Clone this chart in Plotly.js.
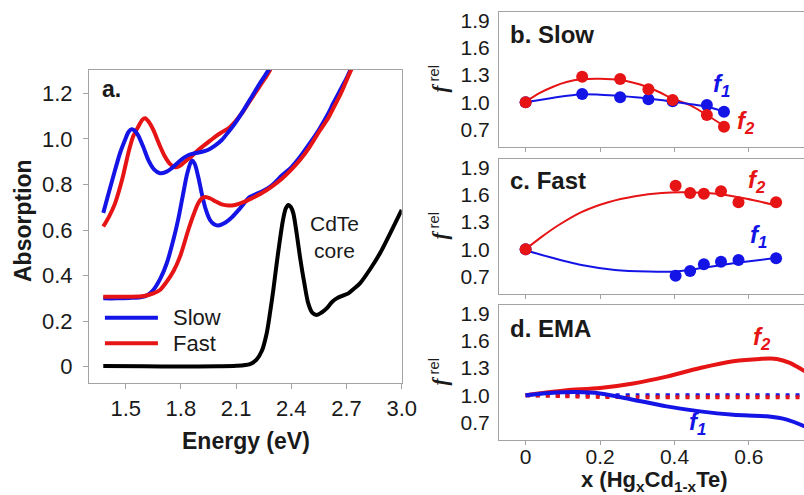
<!DOCTYPE html>
<html>
<head>
<meta charset="utf-8">
<script src="https://cdn.plot.ly/plotly-3.0.1.min.js"></script>
<style>
  html, body { margin: 0; padding: 0; background: #fff; }
  #chart { width: 804px; height: 495px; }
</style>
</head>
<body>
<div id="chart"></div>
<script>
// ---------- Panel a: absorption spectra ----------
const slowUpperE = [1.378,1.41,1.442,1.47,1.496,1.515,1.532,1.55,1.568,1.595,1.623,1.655,1.686,1.72,1.75,1.78,1.813,1.845,1.876,1.91,1.949,1.985,2.022,2.058,2.094,2.14,2.185,2.23,2.275,2.29];
const slowUpperA = [0.675,0.77,0.863,0.94,0.995,1.03,1.042,1.035,1.015,0.965,0.907,0.865,0.849,0.855,0.871,0.893,0.915,0.93,0.937,0.942,0.952,0.97,0.995,1.03,1.068,1.125,1.185,1.245,1.30,1.32];

const fastUpperE = [1.378,1.41,1.442,1.48,1.514,1.54,1.568,1.59,1.605,1.625,1.65,1.68,1.713,1.74,1.768,1.795,1.822,1.86,1.894,1.94,1.985,2.02,2.058,2.094,2.131,2.17,2.203,2.24,2.275,2.295];
const fastUpperA = [0.615,0.66,0.717,0.82,0.937,1.01,1.053,1.083,1.09,1.075,1.039,0.98,0.922,0.89,0.875,0.882,0.9,0.925,0.951,0.98,1.009,1.028,1.046,1.075,1.112,1.16,1.20,1.245,1.288,1.32];

const slowLowerE = [1.378,1.45,1.52,1.58,1.62,1.65,1.69,1.723,1.76,1.786,1.81,1.835,1.859,1.875,1.895,1.913,1.935,1.958,1.98,2.003,2.04,2.076,2.121,2.175,2.23,2.266,2.3,2.35,2.4,2.447,2.5,2.55,2.6,2.628,2.67,2.7,2.725];
const slowLowerA = [0.30,0.30,0.302,0.305,0.315,0.337,0.39,0.454,0.56,0.65,0.75,0.85,0.905,0.89,0.83,0.761,0.69,0.644,0.625,0.62,0.632,0.655,0.695,0.745,0.765,0.78,0.80,0.84,0.875,0.92,0.98,1.04,1.11,1.156,1.22,1.265,1.31];

const fastLowerE = [1.378,1.45,1.52,1.6,1.65,1.686,1.72,1.76,1.795,1.84,1.87,1.894,1.915,1.935,1.96,1.99,2.022,2.058,2.094,2.14,2.185,2.24,2.294,2.35,2.4,2.447,2.5,2.55,2.6,2.628,2.67,2.71,2.735];
const fastLowerA = [0.307,0.307,0.307,0.31,0.322,0.337,0.37,0.42,0.483,0.6,0.67,0.717,0.74,0.745,0.738,0.725,0.712,0.707,0.71,0.722,0.739,0.762,0.79,0.826,0.865,0.907,0.965,1.03,1.09,1.134,1.2,1.275,1.32];

const coreE = [1.378,1.6,1.8,2.0,2.1,2.175,2.21,2.24,2.266,2.285,2.302,2.32,2.338,2.355,2.37,2.384,2.398,2.411,2.43,2.447,2.47,2.492,2.515,2.538,2.565,2.592,2.62,2.647,2.68,2.71,2.74,2.773,2.83,2.882,2.94,3.0];
const coreA = [0.003,0.002,0.001,0.002,0.004,0.012,0.03,0.07,0.146,0.24,0.336,0.45,0.556,0.645,0.695,0.71,0.70,0.673,0.58,0.483,0.37,0.278,0.236,0.227,0.238,0.256,0.283,0.30,0.312,0.322,0.342,0.366,0.43,0.498,0.59,0.688];

const energyTicks = [1.5, 1.8, 2.1, 2.4, 2.7, 3.0];
const energyTickText = ['1.5', '1.8', '2.1', '2.4', '2.7', '3.0'];
const absTicks = [0, 0.2, 0.4, 0.6, 0.8, 1.0, 1.2];
const absTickText = ['0', '0.2', '0.4', '0.6', '0.8', '1.0', '1.2'];

// ---------- Panel b: slow growth ----------
const slowX = [0, 0.152, 0.254, 0.33, 0.395, 0.487, 0.533];
const slowF1 = [1.0, 1.09, 1.054, 1.032, 1.01, 0.969, 0.894];
const slowF2 = [1.0, 1.281, 1.256, 1.142, 1.024, 0.858, 0.729];
const slowFitF1X = [0, 0.075, 0.15, 0.2, 0.254, 0.325, 0.397, 0.44, 0.487, 0.536];
const slowFitF1Y = [1.0, 1.05, 1.088, 1.082, 1.068, 1.043, 1.005, 0.98, 0.95, 0.894];
const slowFitF2X = [0, 0.037, 0.074, 0.11, 0.15, 0.2, 0.254, 0.29, 0.325, 0.36, 0.392, 0.442, 0.487, 0.536];
const slowFitF2Y = [1.005, 1.1, 1.171, 1.222, 1.252, 1.258, 1.245, 1.215, 1.171, 1.11, 1.043, 0.968, 0.858, 0.729];

// ---------- Panel c: fast growth ----------
const fastX = [0, 0.403, 0.442, 0.479, 0.525, 0.572, 0.673];
const fastF1 = [1.0, 0.708, 0.762, 0.835, 0.864, 0.882, 0.90];
const fastF2 = [1.0, 1.70, 1.62, 1.61, 1.638, 1.518, 1.518];
const fastFitF1X = [0, 0.061, 0.15, 0.24, 0.33, 0.401, 0.469, 0.558, 0.666];
const fastFitF1Y = [0.99, 0.918, 0.827, 0.773, 0.755, 0.755, 0.79, 0.846, 0.90];
const fastFitF2X = [0, 0.043, 0.088, 0.15, 0.222, 0.294, 0.366, 0.428, 0.513, 0.594, 0.666];
const fastFitF2Y = [1.0, 1.136, 1.264, 1.409, 1.518, 1.584, 1.62, 1.627, 1.61, 1.555, 1.49];

// ---------- Panel d: effective medium approximation ----------
const emaF2X = [0, 0.055, 0.11, 0.2, 0.289, 0.379, 0.469, 0.558, 0.63, 0.675, 0.71, 0.76];
const emaF2Y = [1.0, 1.03, 1.055, 1.08, 1.13, 1.205, 1.30, 1.374, 1.40, 1.40, 1.356, 1.24];
const emaF1X = [0, 0.065, 0.137, 0.2, 0.289, 0.379, 0.469, 0.558, 0.648, 0.702, 0.76];
const emaF1Y = [1.0, 1.025, 1.035, 1.02, 0.951, 0.878, 0.823, 0.786, 0.768, 0.732, 0.64];
const emaF2DotX = [0, 0.1, 0.2, 0.3, 0.4, 0.5, 0.6, 0.7, 0.76];
const emaF2DotY = [1.0, 0.99, 0.982, 0.978, 0.977, 0.977, 0.977, 0.977, 0.977];
const emaF1DotX = [0, 0.1, 0.2, 0.3, 0.4, 0.5, 0.6, 0.7, 0.76];
const emaF1DotY = [1.0, 1.0, 1.0, 1.0, 1.0, 1.0, 1.0, 1.0, 1.0];

const compTicks = [0, 0.2, 0.4, 0.6];
const compTickText = ['0', '0.2', '0.4', '0.6'];
const fTicks = [0.7, 1.0, 1.3, 1.6, 1.9];
const fTickText = ['0.7', '1.0', '1.3', '1.6', '1.9'];

const BLUE = '#1414e6';
const RED = '#e61414';
const FRAME = '#a3a3a3';
const FONT = 'Liberation Sans, Arial, sans-serif';
const TXT = '#1a1a1a';

function line(x, y, color, width, xa, ya, dash) {
  return { x, y, xaxis: xa, yaxis: ya, type: 'scatter', mode: 'lines',
    line: { color, width, shape: 'spline', smoothing: 0.8, dash: dash || 'solid' },
    hoverinfo: 'skip', showlegend: false };
}
function dots(x, y, color, xa, ya) {
  return { x, y, xaxis: xa, yaxis: ya, type: 'scatter', mode: 'markers',
    marker: { color, size: 12, line: { width: 0 } }, hoverinfo: 'skip', showlegend: false };
}

const traces = [
  line(slowLowerE, slowLowerA, BLUE, 4, 'x', 'y'),
  line(fastLowerE, fastLowerA, RED, 4, 'x', 'y'),
  line(fastUpperE, fastUpperA, RED, 4, 'x', 'y'),
  line(slowUpperE, slowUpperA, BLUE, 4, 'x', 'y'),
  line(coreE, coreA, '#000000', 4, 'x', 'y'),

  line(slowFitF2X, slowFitF2Y, RED, 2, 'x2', 'y2'),
  line(slowFitF1X, slowFitF1Y, BLUE, 2, 'x2', 'y2'),
  dots(slowX, slowF1, BLUE, 'x2', 'y2'),
  dots(slowX, slowF2, RED, 'x2', 'y2'),

  line(fastFitF2X, fastFitF2Y, RED, 2, 'x3', 'y3'),
  line(fastFitF1X, fastFitF1Y, BLUE, 2, 'x3', 'y3'),
  dots(fastX, fastF1, BLUE, 'x3', 'y3'),
  dots(fastX, fastF2, RED, 'x3', 'y3'),

  line(emaF1DotX, emaF1DotY, BLUE, 4, 'x4', 'y4', '4px,6px'),
  line(emaF2DotX, emaF2DotY, RED, 4, 'x4', 'y4', '4px,6px'),
  line(emaF2X, emaF2Y, RED, 4, 'x4', 'y4'),
  line(emaF1X, emaF1Y, BLUE, 4, 'x4', 'y4')
];

// pixel helpers for paper-positioned labels
const W = 804, H = 495;
const px = v => v / W;
const py = v => 1 - v / H;

const axisBase = {
  showgrid: false, zeroline: false, showline: true, linecolor: FRAME, linewidth: 1.4,
  tickcolor: FRAME, tickfont: { family: FONT, size: 22, color: TXT }, fixedrange: true
};

const rightX = showLabels => Object.assign({}, axisBase, {
  domain: [px(499.3), 1], range: [-0.0707, 0.748], tickvals: compTicks, ticktext: compTickText,
  ticks: 'outside', ticklen: 4, mirror: true, showticklabels: showLabels,
  ticklabelstandoff: -7,
  tickfont: { family: FONT, size: 21, color: TXT }
});
const rightY = (top, bottom) => Object.assign({}, axisBase, {
  domain: [py(bottom), py(top)], range: [0.508, 1.993], tickvals: fTicks, ticktext: fTickText,
  ticks: '', mirror: false, ticklabelstandoff: 4,
  tickfont: { family: FONT, size: 21, color: TXT }
});

const layout = {
  width: W, height: H, margin: { l: 0, r: 0, t: 0, b: 0 },
  paper_bgcolor: '#ffffff', plot_bgcolor: '#ffffff', showlegend: false,
  font: { family: FONT, color: TXT },
  xaxis: Object.assign({}, axisBase, {
    domain: [px(89.3), px(401.7)], range: [1.302, 3.0], anchor: 'y',
    tickvals: energyTicks, ticktext: energyTickText, ticks: 'outside', ticklen: 5, mirror: true
  }),
  yaxis: Object.assign({}, axisBase, {
    domain: [py(382.7), py(70)], range: [-0.07, 1.302], anchor: 'x',
    tickvals: absTicks, ticktext: absTickText, ticks: 'outside', ticklen: 5, mirror: true,
    ticklabelstandoff: 6
  }),
  xaxis2: Object.assign(rightX(false), { anchor: 'y2' }),
  yaxis2: Object.assign(rightY(12.3, 146.7), { anchor: 'x2' }),
  xaxis3: Object.assign(rightX(false), { anchor: 'y3' }),
  yaxis3: Object.assign(rightY(159, 294), { anchor: 'x3' }),
  xaxis4: Object.assign(rightX(true), { anchor: 'y4' }),
  yaxis4: Object.assign(rightY(305, 440), { anchor: 'x4' }),
  shapes: [
    { type: 'line', xref: 'x', yref: 'y', x0: 1.387, x1: 1.675, y0: 0.215, y1: 0.215,
      line: { color: BLUE, width: 4 } },
    { type: 'line', xref: 'x', yref: 'y', x0: 1.387, x1: 1.675, y0: 0.103, y1: 0.103,
      line: { color: RED, width: 4 } }
  ],
  annotations: []
};

function note(text, x, y, opts) {
  return Object.assign({ text, x, y, xref: 'paper', yref: 'paper', showarrow: false,
    xanchor: 'center', yanchor: 'middle',
    font: { family: FONT, size: 21, color: TXT } }, opts || {});
}
function dataNote(text, x, y, xa, ya, color) {
  return { text, x, y, xref: xa, yref: ya, showarrow: false, xanchor: 'center', yanchor: 'middle',
    font: { family: FONT, size: 24, color } };
}

const fLabel = i => '<b><i>f<sub>' + i + '</sub></i></b>';
const fRel = "<span style='font-family:Liberation Serif'><b><i>f</i></b></span><sup> rel</sup>";

layout.annotations.push(
  note('<b>a.</b>', px(111), py(89), { font: { family: FONT, size: 23, color: TXT } }),
  note('CdTe<br>core', px(334), py(237), { font: { family: FONT, size: 21, color: TXT } }),
  { text: 'Slow', x: 1.746, y: 0.215, xref: 'x', yref: 'y', showarrow: false, xanchor: 'left',
    yanchor: 'middle', font: { family: FONT, size: 22, color: TXT } },
  { text: 'Fast', x: 1.746, y: 0.103, xref: 'x', yref: 'y', showarrow: false, xanchor: 'left',
    yanchor: 'middle', font: { family: FONT, size: 22, color: TXT } },
  note('<b>Absorption</b>', px(23), py(221), { textangle: -90, font: { family: FONT, size: 23, color: TXT } }),
  note('<b>Energy (eV)</b>', px(245.5), py(441), { font: { family: FONT, size: 23, color: TXT } }),

  note('<b>b. Slow</b>', px(508), py(34), { xanchor: 'left', font: { family: FONT, size: 24, color: TXT } }),
  note('<b>c. Fast</b>', px(508), py(180), { xanchor: 'left', font: { family: FONT, size: 24, color: TXT } }),
  note('<b>d. EMA</b>', px(508), py(328), { xanchor: 'left', font: { family: FONT, size: 24, color: TXT } }),

  note(fRel, px(439), py(79.5), { textangle: -90, font: { family: FONT, size: 21, color: TXT } }),
  note(fRel, px(439), py(226.5), { textangle: -90, font: { family: FONT, size: 21, color: TXT } }),
  note(fRel, px(439), py(372.5), { textangle: -90, font: { family: FONT, size: 21, color: TXT } }),

  note('<b>x (Hg<sub>x</sub>Cd<sub>1-x</sub>Te)</b>', px(654), py(481), { font: { family: FONT, size: 22, color: TXT } }),

  dataNote(fLabel(1), 0.525, 1.18, 'x2', 'y2', BLUE),
  dataNote(fLabel(2), 0.592, 0.77, 'x2', 'y2', RED),
  dataNote(fLabel(2), 0.622, 1.744, 'x3', 'y3', RED),
  dataNote(fLabel(1), 0.627, 1.144, 'x3', 'y3', BLUE),
  dataNote(fLabel(2), 0.634, 1.624, 'x4', 'y4', RED),
  dataNote(fLabel(1), 0.461, 0.687, 'x4', 'y4', BLUE)
);

Plotly.newPlot('chart', traces, layout, { staticPlot: true, displayModeBar: false });
</script>
</body>
</html>
